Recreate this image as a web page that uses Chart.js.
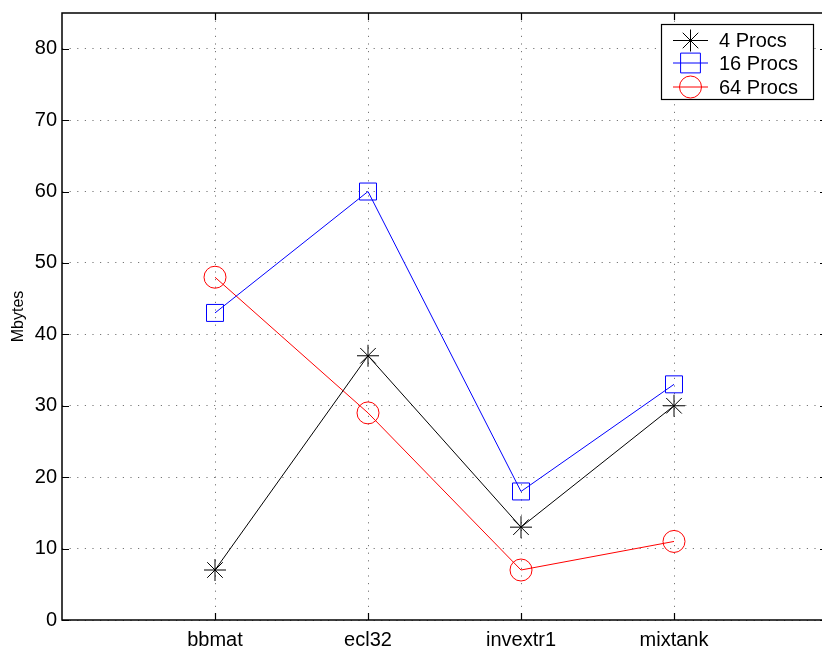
<!DOCTYPE html>
<html>
<head>
<meta charset="utf-8">
<script src="https://cdn.jsdelivr.net/npm/chart.js@4.4.1/dist/chart.umd.min.js"></script>
<style>
  html, body { margin: 0; padding: 0; background: #fff; overflow: hidden; }
  #wrap { width: 840px; height: 649px; }
</style>
</head>
<body>
<div id="wrap"><canvas id="c" width="840" height="649"></canvas></div>
<script>
// Matrices and memory use per processor count
const categories = ['bbmat', 'ecl32', 'invextr1', 'mixtank'];
const procs4 = [7, 37, 13, 30];
const procs16 = [43, 60, 18, 33];
const procs64 = [48, 29, 7, 11];
const yTicks = [0, 10, 20, 30, 40, 50, 60, 70, 80];
const seriesLabels = ['4 Procs', '16 Procs', '64 Procs'];

const FONT = '"Liberation Sans", Arial, Helvetica, sans-serif';

function toPoints(values) {
  return values.map((v, i) => ({ x: i + 1, y: v }));
}

function noPadding(s) {
  s.paddingTop = 0; s.paddingBottom = 0; s.paddingLeft = 0; s.paddingRight = 0;
}

// Plot frame, inward tick marks and the boxed legend
const framePlugin = {
  id: 'frame',
  afterDraw(chart) {
    const ctx = chart.ctx;
    const a = chart.chartArea;
    const xs = chart.scales.x, ys = chart.scales.y;
    ctx.save();
    ctx.strokeStyle = '#000';
    ctx.lineWidth = 1.5;
    ctx.strokeRect(a.left, a.top, a.right - a.left, a.bottom - a.top);
    ctx.lineWidth = 1.2;
    ctx.beginPath();
    categories.forEach((c, i) => {
      const px = Math.round(xs.getPixelForValue(i + 1)) + 0.5;
      ctx.moveTo(px, a.bottom); ctx.lineTo(px, a.bottom - 7);
      ctx.moveTo(px, a.top); ctx.lineTo(px, a.top + 7);
    });
    yTicks.forEach(v => {
      const py = Math.round(ys.getPixelForValue(v)) + 0.5;
      ctx.moveTo(a.left, py); ctx.lineTo(a.left + 7, py);
      ctx.moveTo(a.right, py); ctx.lineTo(a.right - 7, py);
    });
    ctx.stroke();

    // legend
    const bx = 661.5, by = 24.5, bw = 152, bh = 75;
    ctx.fillStyle = '#fff';
    ctx.fillRect(bx, by, bw, bh);
    ctx.lineWidth = 1.2;
    ctx.strokeStyle = '#000';
    ctx.strokeRect(bx, by, bw, bh);
    const rows = [40, 62.5, 86.5];
    chart.data.datasets.forEach((ds, i) => {
      const y = rows[i] + 0.5;
      ctx.strokeStyle = ds.borderColor;
      ctx.fillStyle = 'rgba(0,0,0,0)';
      ctx.lineWidth = 1;
      ctx.beginPath();
      ctx.moveTo(673, y); ctx.lineTo(708, y);
      ctx.stroke();
      Chart.helpers.drawPoint(ctx, {
        pointStyle: ds.pointStyle,
        radius: ds.pointStyle === 'rect' ? 14 : ds.pointRadius,
        borderWidth: 1,
        rotation: 0
      }, 690.5, y);
      ctx.fillStyle = '#000';
      ctx.font = '20px ' + FONT;
      ctx.textBaseline = 'middle';
      ctx.textAlign = 'left';
      ctx.fillText(ds.label, 719, y + 1);
    });
    ctx.restore();
  }
};

function ds(label, values, color, style, radius) {
  return {
    label,
    data: toPoints(values),
    borderColor: color,
    backgroundColor: 'rgba(0,0,0,0)',
    borderWidth: 1,
    pointStyle: style,
    pointRadius: radius,
    pointBorderColor: color,
    pointBackgroundColor: 'rgba(0,0,0,0)',
    pointBorderWidth: 1,
    tension: 0
  };
}

new Chart(document.getElementById('c'), {
  type: 'line',
  data: {
    datasets: [
      ds(seriesLabels[0], procs4, '#000000', 'star', 11),
      ds(seriesLabels[1], procs16, '#0000ff', 'rect', 12),
      ds(seriesLabels[2], procs64, '#ff0000', 'circle', 11)
    ]
  },
  options: {
    responsive: false,
    animation: false,
    events: [],
    layout: { padding: { top: 12, right: 6, left: 0, bottom: 0 } },
    plugins: { legend: { display: false }, tooltip: { enabled: false } },
    scales: {
      x: {
        type: 'linear',
        min: 0,
        max: 5,
        afterBuildTicks: s => { s.ticks = categories.map((c, i) => ({ value: i + 1 })); },
        afterFit: s => { s.height = 29; noPadding(s); },
        ticks: {
          callback: v => categories[v - 1],
          font: { family: FONT, size: 20 },
          color: '#000',
          padding: 8,
          maxRotation: 0,
          autoSkip: false
        },
        grid: { color: '#777', lineWidth: 1, drawTicks: false },
        border: { display: false, dash: [1.2, 6.4] }
      },
      y: {
        min: 0,
        max: 85,
        afterBuildTicks: s => { s.ticks = yTicks.map(v => ({ value: v })); },
        afterFit: s => { s.width = 62; noPadding(s); },
        ticks: {
          font: { family: FONT, size: 20 },
          color: '#000',
          padding: 5
        },
        title: {
          display: true,
          text: 'Mbytes',
          font: { family: FONT, size: 16 },
          color: '#000',
          padding: { top: 9, bottom: 0 }
        },
        grid: { color: '#777', lineWidth: 1, drawTicks: false },
        border: { display: false, dash: [1.2, 6.4] }
      }
    }
  },
  plugins: [framePlugin]
});
</script>
</body>
</html>
